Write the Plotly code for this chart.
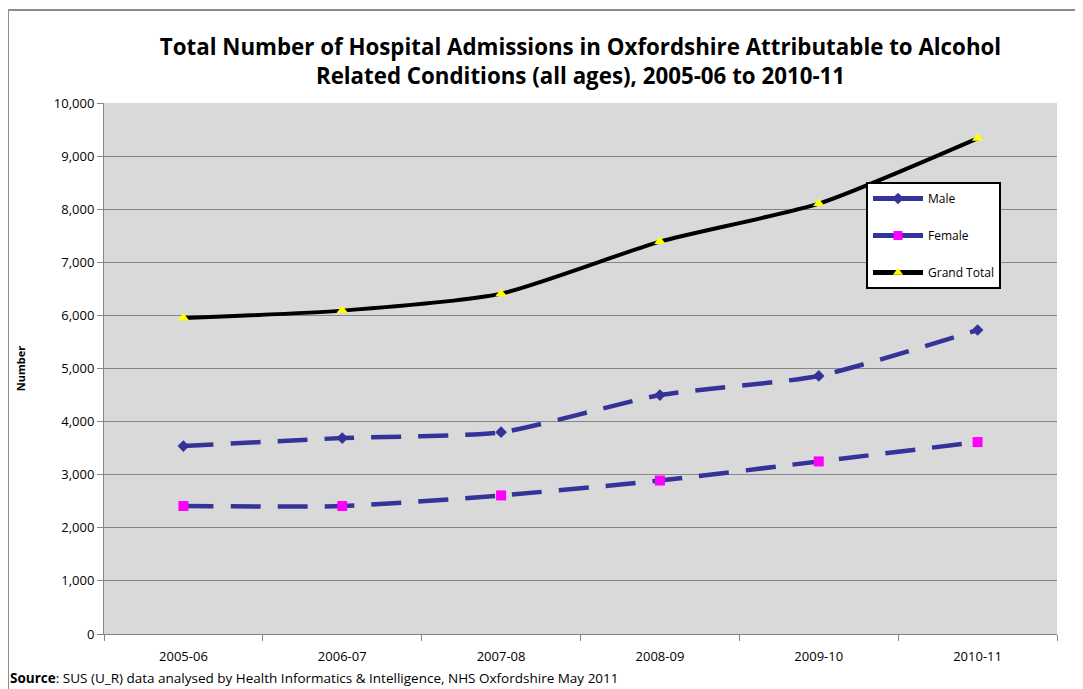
import plotly.graph_objects as go

years = ['2005-06', '2006-07', '2007-08', '2008-09', '2009-10', '2010-11']
male = [3540, 3690, 3800, 4500, 4860, 5725]
female = [2410, 2410, 2610, 2890, 3250, 3615]
grand_total = [5950, 6090, 6410, 7390, 8105, 9335]

# page body has an 8px margin, so the figure is sized / offset to compensate
OFF = 8
W, H = 1083 - OFF, 689 - OFF
L, R, T, B = 104 - OFF, 26, 103 - OFF, 55
pw, ph = W - L - R, H - T - B

FONT = 'Open Sans'
NAVY = '#333399'
DASH = '30px,17px'

fig = go.Figure()
fig.add_trace(go.Scatter(
    x=years, y=male, name='Male', showlegend=False,
    mode='lines+markers', line=dict(color=NAVY, width=4.5, dash=DASH, shape='spline', smoothing=0.6),
    marker=dict(symbol='diamond', size=9, color=NAVY)))
fig.add_trace(go.Scatter(
    x=years, y=female, name='Female', showlegend=False,
    mode='lines+markers', line=dict(color=NAVY, width=4.5, dash=DASH, shape='spline', smoothing=0.6),
    marker=dict(symbol='square', size=10, color='#FF00FF')))
fig.add_trace(go.Scatter(
    x=years, y=grand_total, name='Grand Total', showlegend=False,
    mode='lines+markers', line=dict(color='black', width=4, shape='spline', smoothing=0.6),
    marker=dict(symbol='triangle-up', size=10, color='#FFFF00')))

# legend entries (solid sample lines, as in the original legend)
legend_items = [
    ('Male', NAVY, 'diamond', NAVY, 'm'),
    ('Female', NAVY, 'square', '#FF00FF', 'f'),
    ('Grand Total', 'black', 'triangle-up', '#FFFF00', 'g'),
]
for name, lc, sym, mc, grp in legend_items:
    fig.add_trace(go.Scatter(
        x=[None], y=[None], name=name, legendgroup=grp,
        mode='lines+markers', line=dict(color=lc, width=5),
        marker=dict(symbol=sym, size=9, color=mc)))

# outer chart border
fig.add_shape(type='rect', xref='paper', yref='paper',
              x0=(8 - 104) / pw, x1=(1080 - 104) / pw, y0=-0.3, y1=(634 - 10) / ph,
              line=dict(color='#8c8c8c', width=2), layer='below')

fig.add_annotation(
    text='<b>Source</b>: SUS (U_R) data analysed by Health Informatics & Intelligence, NHS Oxfordshire May 2011',
    xref='paper', yref='paper', x=(8 - 104) / pw, y=-(678 - 634) / ph,
    xanchor='left', yanchor='middle', showarrow=False, font=dict(size=13.5, color='black', family=FONT))

fig.update_layout(
    width=W, height=H,
    margin=dict(l=L, r=R, t=T, b=B, autoexpand=False),
    paper_bgcolor='white', plot_bgcolor='#D9D9D9',
    font=dict(family=FONT, color='black', size=12),
    title=dict(
        text='<b>Total Number of Hospital Admissions in Oxfordshire Attributable to Alcohol<br>Related Conditions (all ages), 2005-06 to 2010-11</b>',
        x=0.5, xref='paper', xanchor='center', y=(H - 47) / H, yanchor='middle',
        font=dict(size=22.3, family=FONT, color='black')),
    legend=dict(
        x=(866 - 104) / pw, y=(634 - 182) / ph, xanchor='left', yanchor='top',
        bgcolor='white', bordercolor='black', borderwidth=2,
        font=dict(size=12, family=FONT), traceorder='grouped', tracegroupgap=18,
        itemwidth=50),
    xaxis=dict(
        type='category', range=[-0.5, 5.5], showgrid=False, showline=True,
        linecolor='#868686', linewidth=1,
        ticks='outside', tickson='boundaries', ticklen=6, tickcolor='#868686',
        tickfont=dict(size=13), ticklabelstandoff=10, automargin=False),
    yaxis=dict(
        range=[0, 10000], dtick=1000, tickformat=',', showgrid=True, gridcolor='#868686',
        gridwidth=1, showline=True, linecolor='#868686', ticks='outside', ticklen=6,
        tickcolor='#868686', tickfont=dict(size=13), zeroline=False, automargin=False,
        title=dict(text='<b>Number</b>', font=dict(size=11), standoff=26)),
)

fig.write_html('out.html')
